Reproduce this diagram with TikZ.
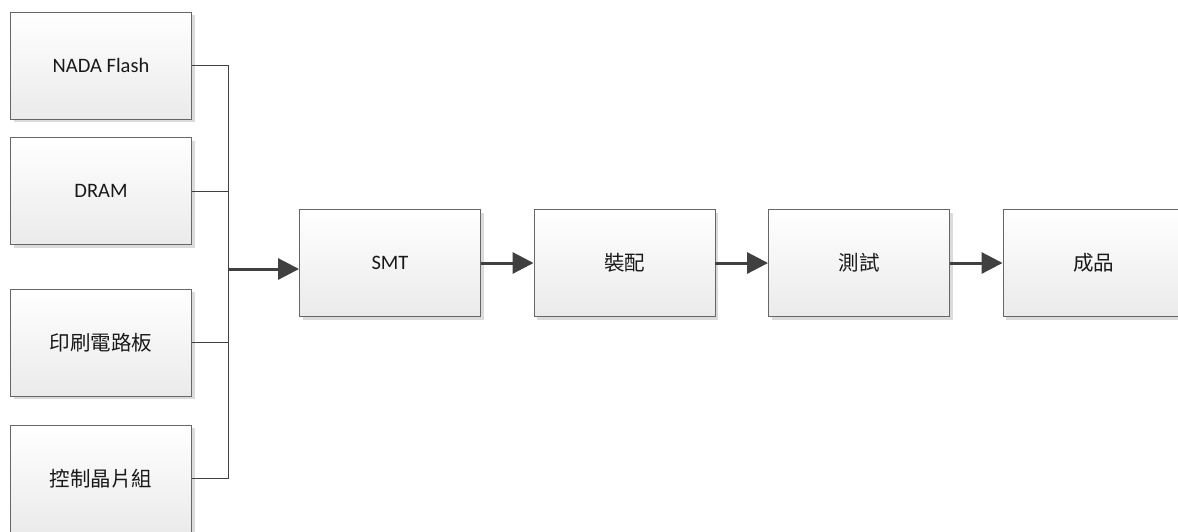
\documentclass[tikz,border=0pt]{standalone}
\usepackage{fontspec}
\setmainfont{Carlito}
\newfontfamily\cjk{Noto Sans CJK TC}
\usetikzlibrary{arrows.meta, positioning, shadows}

\definecolor{boxline}{HTML}{666666}
\definecolor{flowline}{HTML}{404040}

\tikzset{
  stage/.style={draw=boxline, line width=0.9pt, top color=white, bottom color=black!8,
    minimum width=181pt, minimum height=107pt, inner sep=0pt,
    font=\fontsize{20.5}{24}\selectfont, text=black!90,
    general shadow={fill=black!14, shadow xshift=3pt, shadow yshift=-3pt}},
  feed/.style={draw=flowline, line width=1pt},
  flow/.style={draw=flowline, line width=3pt, -{Triangle[length=21pt,width=21pt]}}
}

\begin{document}
\begin{tikzpicture}[x=1pt, y=1pt, node distance=234.5pt, on grid]
  \useasboundingbox (0,0) rectangle (1178,-531);

  % parts
  \node[stage]  (nand) at (101,-65.5)  {NADA Flash};
  \node[stage]  (dram) at (101,-191)   {DRAM};
  \node[stage]  (pcb)  at (101,-342.5) {\cjk 印刷電路板};
  \node[stage]  (ctrl) at (101,-478.5) {\cjk 控制晶片組};

  % process
  \node[stage]  (smt)  at (390,-263)   {SMT};
  \node[stage]  (asm)  [right=of smt]  {\cjk 裝配};
  \node[stage]  (test) [right=of asm]  {\cjk 測試};
  \node[stage]  (done) [right=of test] {\cjk 成品};

  \coordinate (busx) at (228,0);
  \coordinate (in)   at ([yshift=-6pt]smt.west);

  \draw[feed] (nand.east) -- (nand.east -| busx) -- (ctrl.east -| busx) -- (ctrl.east);
  \draw[feed] (dram.east) -- (dram.east -| busx);
  \draw[feed] (pcb.east)  -- (pcb.east -| busx);

  \draw[flow] (in -| busx) -- (in);
  \draw[flow] (smt.east)  -- (asm.west);
  \draw[flow] (asm.east)  -- (test.west);
  \draw[flow] (test.east) -- (done.west);
\end{tikzpicture}
\end{document}
